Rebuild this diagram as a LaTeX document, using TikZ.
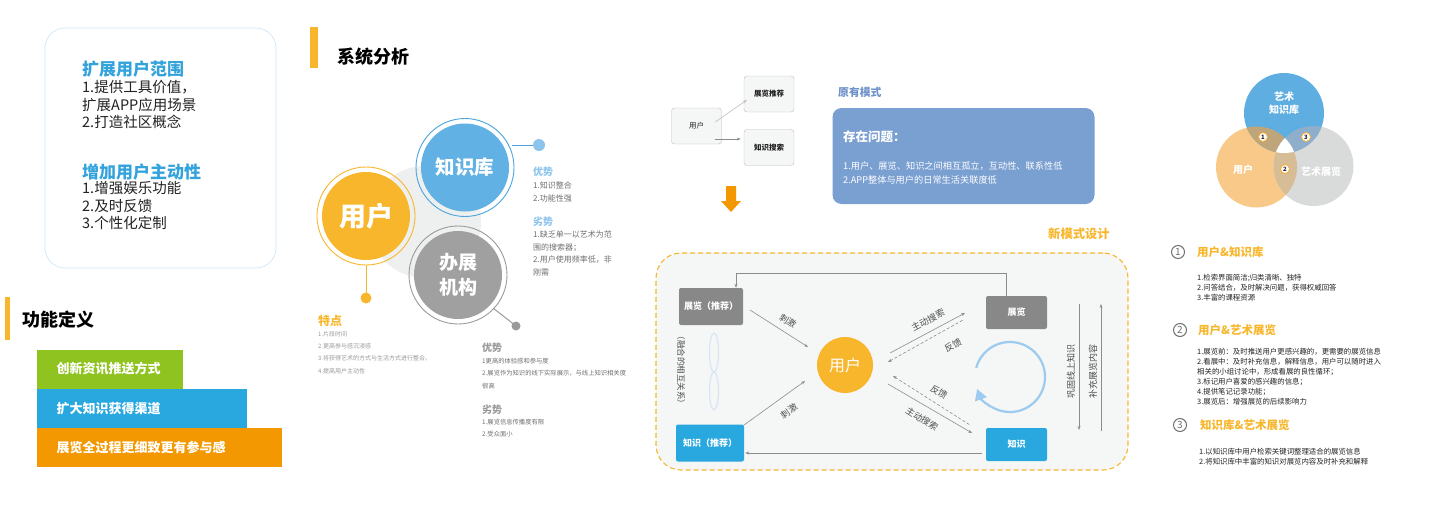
\documentclass[tikz,border=0pt]{standalone}
\usepackage{fontspec}
\setmainfont{Noto Sans CJK SC}
\usetikzlibrary{arrows.meta,positioning,calc}
\definecolor{pnInk}{HTML}{222222}
\definecolor{pnBlue}{HTML}{33A3DC}
\definecolor{pnAmber}{HTML}{F8B62D}
\definecolor{pnGreen}{HTML}{8FC31F}
\definecolor{pnSky}{HTML}{29A8E0}
\definecolor{pnOrange}{HTML}{F39800}
\definecolor{pnFrame}{HTML}{D4E8F6}
\definecolor{pnKnow}{HTML}{62B1E4}
\definecolor{pnKnowRing}{HTML}{4BA3DE}
\definecolor{pnKnowText}{HTML}{8CC4EC}
\definecolor{pnOffice}{HTML}{A0A0A0}
\definecolor{pnHalo}{HTML}{EEEFEF}
\definecolor{pnMute}{HTML}{6E6E6E}
\definecolor{pnPale}{HTML}{9A9A9A}
\definecolor{pnCard}{HTML}{F5F6F6}
\definecolor{pnCardLine}{HTML}{BDBDBD}
\definecolor{pnOld}{HTML}{7A9FD1}
\definecolor{pnOldText}{HTML}{6E92C9}
\definecolor{pnStone}{HTML}{888888}
\definecolor{pnWire}{HTML}{8C8C8C}
\definecolor{pnLoop}{HTML}{9CCBEF}
\definecolor{pnKnot}{HTML}{D6E4F3}
\definecolor{vnKnow}{HTML}{5FAEE2}
\definecolor{vnUser}{HTML}{F9C98A}
\definecolor{vnExpo}{HTML}{D9DADA}
\definecolor{vnKU}{HTML}{BFA57A}
\definecolor{vnKE}{HTML}{8EAECB}
\definecolor{vnUE}{HTML}{D6BD96}
\tikzset{
  % Goals panel
  goalframe/.style={rectangle,rounded corners=20pt,draw=pnFrame,
    fill=white,line width=.8pt},
  goaltitle/.style={anchor=west,inner sep=0pt,text=pnBlue,
    font=\bfseries\fontsize{17}{20}\selectfont},
  goaltext/.style={anchor=north west,inner sep=0pt,align=left,text=pnInk,
    font=\fontsize{14.5}{17.8}\selectfont},
  % Section heading
  heading/.style={anchor=west,inner sep=0pt,text=black,
    font=\bfseries\fontsize{18}{20}\selectfont},
  % Coloured band
  band/.style={rectangle,minimum height=39pt,inner xsep=20pt,inner ysep=0pt,
    align=left,text=white,font=\bfseries\fontsize{13}{15}\selectfont},
  % Big analysis circle
  hub/.style={circle,minimum size=88pt,inner sep=0pt,text=white,
    align=center,font=\bfseries},
  % Small titles and notes
  protitle/.style={anchor=west,inner sep=0pt,
    font=\bfseries\fontsize{10}{12}\selectfont},
  note/.style={anchor=north west,inner sep=0pt,align=left,text=pnMute,
    font=\fontsize{8}{12.4}\selectfont},
  tiny/.style={anchor=north west,inner sep=0pt,align=left,text=pnPale,
    font=\fontsize{6}{12.3}\selectfont},
  % Old mode cards
  card/.style={rectangle,rounded corners=3pt,draw=pnCardLine,fill=pnCard,
    minimum width=50pt,minimum height=36pt,inner sep=0pt,text=pnInk,
    font=\fontsize{7.5}{9}\selectfont},
  oldbox/.style={rectangle,rounded corners=9pt,fill=pnOld,
    minimum width=262pt,minimum height=96pt},
  % New mode
  stage/.style={rectangle,rounded corners=25pt,draw=pnAmber,fill=pnCard,
    dash pattern=on 5pt off 3pt,line width=1.1pt,
    minimum width=472pt,minimum height=217pt},
  tile/.style={rectangle,rounded corners=2pt,minimum width=64pt,
    minimum height=37pt,inner sep=0pt,text=white,
    font=\bfseries\fontsize{9}{11}\selectfont},
  lab/.style={inner sep=0pt,text=pnInk!80,font=\fontsize{9}{11}\selectfont},
  wire/.style={draw=pnWire,line width=.6pt},
  dwire/.style={wire,dash pattern=on 3pt off 2pt},
  fwd/.style={-{Stealth[length=4pt,width=3pt]}},
  bwd/.style={{Stealth[length=4pt,width=3pt]}-},
  % Venn and list
  vmark/.style={circle,draw=pnOrange!80,fill=white,line width=.8pt,
    minimum size=9pt,inner sep=0pt,text=pnInk,
    font=\bfseries\fontsize{6}{7}\selectfont},
  vlab/.style={text=white,align=center,inner sep=0pt,
    font=\bfseries\fontsize{10}{13.5}\selectfont},
  numring/.style={circle,draw=pnMute,line width=1pt,minimum size=13pt,
    inner sep=0pt,text=pnMute,font=\fontsize{10}{11}\selectfont},
  listhd/.style={anchor=west,inner sep=0pt,text=pnAmber,
    font=\bfseries\fontsize{11.5}{13}\selectfont},
  listtxt/.style={anchor=north west,inner sep=0pt,align=left,text=pnInk,
    font=\fontsize{7.4}{10}\selectfont},
}
\begin{document}
\begin{tikzpicture}[x=1pt,y=-1pt]
  \useasboundingbox (0,0) rectangle (1453,517);

  % goals
  \node[goalframe,minimum width=231pt,minimum height=240pt] (goals) at (160.5,148) {};
  \node[goaltitle] (reach) at (82,69) {扩展用户范围};
  \node[goaltext] (reachtxt) at (82,79.8) {1.提供工具价值，\\扩展APP应用场景\\2.打造社区概念};
  \node[goaltitle] (active) at (82,172) {增加用户主动性};
  \node[goaltext] (activetxt) at (82,180.8) {1.增强娱乐功能\\2.及时反馈\\3.个性化定制};

  % function definition
  \fill[pnAmber] (5,297) rectangle (10,340);
  \node[heading] (funcs) at (22,320) {功能定义};
  \node[band,fill=pnGreen,text width=106pt] (innov) at (109.5,369) {创新资讯推送方式};
  \node[band,fill=pnSky,text width=170pt] (widen) at (141.5,408.5) {扩大知识获得渠道};
  \node[band,fill=pnOrange,text width=205pt] (detail) at (159,447.5) {展览全过程更细致更有参与感};

  % system analysis
  \fill[pnAmber] (310,27) rectangle (318,68);
  \node[heading] (sys) at (337,57) {系统分析};
  \fill[pnHalo] (425,222) circle[radius=56];
  \node[hub,fill=pnAmber,font=\bfseries\fontsize{27}{30}\selectfont] (usr) at (366,216) {用户};
  \draw[pnAmber,line width=.9pt] (usr) circle[radius=49];
  \node[hub,fill=pnKnow,font=\bfseries\fontsize{19.5}{22}\selectfont] (kb) at (465,167.5) {知识库};
  \draw[pnKnowRing,line width=.9pt] (kb) circle[radius=49];
  \node[hub,fill=pnOffice,font=\bfseries\fontsize{19}{25}\selectfont] (org) at (458,275) {办展\\机构};
  \draw[pnPale,line width=.9pt] (org) circle[radius=49];

  \coordinate (kbtip) at (539,145);
  \coordinate (usrtip) at (366,298);
  \coordinate (orgtip) at (516,326);
  \draw[pnKnowRing,line width=1pt] ($(kb)+(47,-22.5)$) -- (kbtip);
  \fill[pnKnowText] (kbtip) circle[radius=6];
  \draw[pnAmber,line width=1pt] ($(usr)+(0,49)$) -- (usrtip);
  \fill[pnAmber] (usrtip) circle[radius=5.5];
  \draw[pnPale,line width=1pt] ($(org)+(35,33)$) -- (orgtip);
  \fill[pnPale] (orgtip) circle[radius=4.5];

  \node[protitle,text=pnKnowText] (kbpro) at (533,172) {优势};
  \node[note] (kbprotxt) at (533,182) {1.知识整合\\2.功能性强};
  \node[protitle,text=pnKnowText] (kbcon) at (533,222) {劣势};
  \node[note] (kbcontxt) at (533,231) {1.缺乏单一以艺术为范\\围的搜索器；\\2.用户使用频率低，非\\刚需};

  \node[protitle,text=pnAmber,font=\bfseries\fontsize{12}{14}\selectfont] (feat) at (318,321) {特点};
  \node[tiny] (feattxt) at (318,331) {1.片段时间\\2.更高参与感沉浸感\\3.将获得艺术的方式与生活方式进行整合。\\4.提高用户主动性};

  \node[protitle,text=pnPale] (orgpro) at (482,348) {优势};
  \node[tiny,text=pnMute,font=\fontsize{6.3}{12.5}\selectfont] (orgprotxt) at (482,357.8)
    {1更高的体验感和参与度\\2.展览作为知识的线下实际展示，与线上知识相关度\\很高};
  \node[protitle,text=pnPale] (orgcon) at (482,410) {劣势};
  \node[tiny,text=pnMute,font=\fontsize{6.3}{12.5}\selectfont] (orgcontxt) at (482,418.8)
    {1.展览信息传播度有限\\2.受众面小};

  % old mode
  \node[card] (oldusr) at (696.5,126) {用户};
  \node[card,font=\bfseries\fontsize{7.5}{9}\selectfont] (oldexh) at (769,94) {展览推荐};
  \node[card,font=\bfseries\fontsize{7.5}{9}\selectfont] (oldkb) at (769,147.5) {知识搜索};
  \draw[wire,draw=pnCardLine,fwd] ([shift={(-6.5,-4)}]oldusr.east) -- ([shift={(3,6)}]oldexh.west);
  \draw[wire,draw=pnWire,fwd] ([shift={(-6.5,13)}]oldusr.east) -- ([shift={(-3,-8.5)}]oldkb.west);
  \fill[pnOrange] (726,186) -- (736,186) -- (736,201) -- (741,201) -- (731,212)
    -- (721,201) -- (726,201) -- cycle;

  \node[protitle,text=pnOldText,font=\bfseries\fontsize{10.8}{12}\selectfont] (oldhd) at (838,92) {原有模式};
  \node[oldbox] (issue) at (963.5,156) {};
  \node[protitle,text=white,font=\bfseries\fontsize{12.5}{14}\selectfont] (issuehd) at (843,137) {存在问题：};
  \node[note,text=white,font=\fontsize{9.2}{14.5}\selectfont] (issuetxt) at (843,161.4)
    {1.用户、展览、知识之间相互孤立，互动性、联系性低\\2.APP整体与用户的日常生活关联度低};

  % new mode
  \node[protitle,text=pnAmber,font=\bfseries\fontsize{12.3}{14}\selectfont] (newhd) at (1048,234) {新模式设计};
  \node[stage] (stage) at (892,361.5) {};
  \node[tile,fill=pnStone] (exr) at (711,306.5) {展览（推荐）};
  \node[tile,fill=pnSky,minimum width=68pt] (knr) at (710,443) {知识（推荐）};
  \node[circle,fill=pnAmber,minimum size=56pt,inner sep=0pt,text=white,
    font=\fontsize{16}{18}\selectfont] (core) at (845,365) {用户};
  \node[tile,fill=pnStone,minimum width=61pt,minimum height=33pt] (ex) at (1016.5,312.5) {展览};
  \node[tile,fill=pnSky,minimum width=61pt,minimum height=33pt] (kn) at (1016.5,444.5) {知识};

  \draw[wire,fwd] ([xshift=-10.5pt]ex.north) -- ++(0,-23) -| ([xshift=25pt]exr.north);
  \draw[wire,fwd] ([shift={(-4,8.5)}]kn.west) -- ([shift={(1,10)}]knr.east);

  \coordinate (s1a) at (750,310);
  \coordinate (s1b) at (808,347);
  \coordinate (s2a) at (744,425);
  \coordinate (s2b) at (805,381);
  \draw[wire,fwd] (s1a) -- (s1b);
  \draw[wire,fwd] (s2a) -- (s2b);
  \node[lab,rotate=-32] (push1) at (788,321) {刺激};
  \node[lab,rotate=36] (push2) at (789,411) {刺激};

  \coordinate (q1a) at (890,353);
  \coordinate (q1b) at (965,313);
  \coordinate (q2a) at (888,362);
  \coordinate (q2b) at (963,320);
  \coordinate (q3a) at (893,376);
  \coordinate (q3b) at (970,425);
  \coordinate (q4a) at (888,384);
  \coordinate (q4b) at (972,433);
  \draw[wire,fwd] (q1a) -- (q1b);
  \draw[dwire,bwd] (q2a) -- (q2b);
  \draw[dwire,bwd] (q3a) -- (q3b);
  \draw[wire,fwd] (q4a) -- (q4b);
  \node[lab,rotate=28] (seek1) at (928,320) {主动搜索};
  \node[lab,rotate=28] (back1) at (953,345) {反馈};
  \node[lab,rotate=-32] (back2) at (939,392) {反馈};
  \node[lab,rotate=-32] (seek2) at (922,419) {主动搜索};

  \coordinate (cyc) at (1010,377);
  \draw[pnLoop,line width=2.2pt,-{Triangle[length=11pt,width=12pt]}]
    ([shift={(195:35)}]cyc) arc[start angle=195,end angle=520,radius=35];

  \coordinate (v1a) at (1079,304);
  \coordinate (v1b) at (1079,430);
  \coordinate (v2a) at (1101,431);
  \coordinate (v2b) at (1101,304);
  \draw[wire,fwd] (v1a) -- (v1b);
  \draw[wire,fwd] (v2a) -- (v2b);
  \node[lab,rotate=90] (firm) at (1071,371) {巩固线上知识};
  \node[lab,rotate=90] (fill) at (1093,371) {补充展览内容};

  \draw[pnKnot,line width=1.1pt] (714,352.5) ellipse[x radius=4.5,y radius=19.5];
  \draw[pnKnot,line width=1.1pt] (714,391) ellipse[x radius=4.5,y radius=19];
  \node[lab,rotate=-90,font=\fontsize{8.5}{10}\selectfont] (fuse) at (681,370) {（融合的相互关系）};

  % venn
  \coordinate (vk) at (1284,113);
  \coordinate (vu) at (1256.5,167);
  \coordinate (ve) at (1313.5,166);
  \fill[vnUser] (vu) circle[radius=40.5];
  \fill[vnExpo] (ve) circle[radius=40];
  \fill[vnKnow] (vk) circle[radius=40];
  \begin{scope}
    \clip (vk) circle[radius=40];
    \fill[vnKU] (vu) circle[radius=40.5];
  \end{scope}
  \begin{scope}
    \clip (vk) circle[radius=40];
    \fill[vnKE] (ve) circle[radius=40];
  \end{scope}
  \begin{scope}
    \clip (vu) circle[radius=40.5];
    \fill[vnUE] (ve) circle[radius=40];
  \end{scope}
  \begin{scope}
    \clip (vk) circle[radius=40];
    \clip (vu) circle[radius=40.5];
    \fill[white] (ve) circle[radius=40];
  \end{scope}
  \node[vlab] (vkt) at (1284,103) {艺术\\知识库};
  \node[vlab] (vut) at (1243,170) {用户};
  \node[vlab] (vet) at (1321,172) {艺术展览};
  \node[vmark] (m1) at (1263,137) {1};
  \node[vmark] (m3) at (1306,137) {3};
  \node[vmark] (m2) at (1285,169) {2};

  % list
  \node[numring] (n1) at (1178,252) {1};
  \node[listhd] (h1) at (1197,252) {用户\&知识库};
  \node[listtxt] (t1) at (1197,274.3) {1.检索界面简洁;归类清晰、独特\\2.问答结合，及时解决问题，获得权威回答\\3.丰富的课程资源};
  \node[numring] (n2) at (1180,330) {2};
  \node[listhd] (h2) at (1198,330) {用户\&艺术展览};
  \node[listtxt] (t2) at (1197,348) {1.展览前：及时推送用户更感兴趣的，更需要的展览信息\\2.看展中：及时补充信息，解释信息，用户可以随时进入\\相关的小组讨论中，形成看展的良性循环；\\3.标记用户喜爱的感兴趣的信息；\\4.提供笔记记录功能；\\3.展览后：增强展览的后续影响力};
  \node[numring] (n3) at (1180,425) {3};
  \node[listhd] (h3) at (1200,425) {知识库\&艺术展览};
  \node[listtxt] (t3) at (1199,448.3) {1.以知识库中用户检索关键词整理适合的展览信息\\2.将知识库中丰富的知识对展览内容及时补充和解释};
\end{tikzpicture}
\end{document}
